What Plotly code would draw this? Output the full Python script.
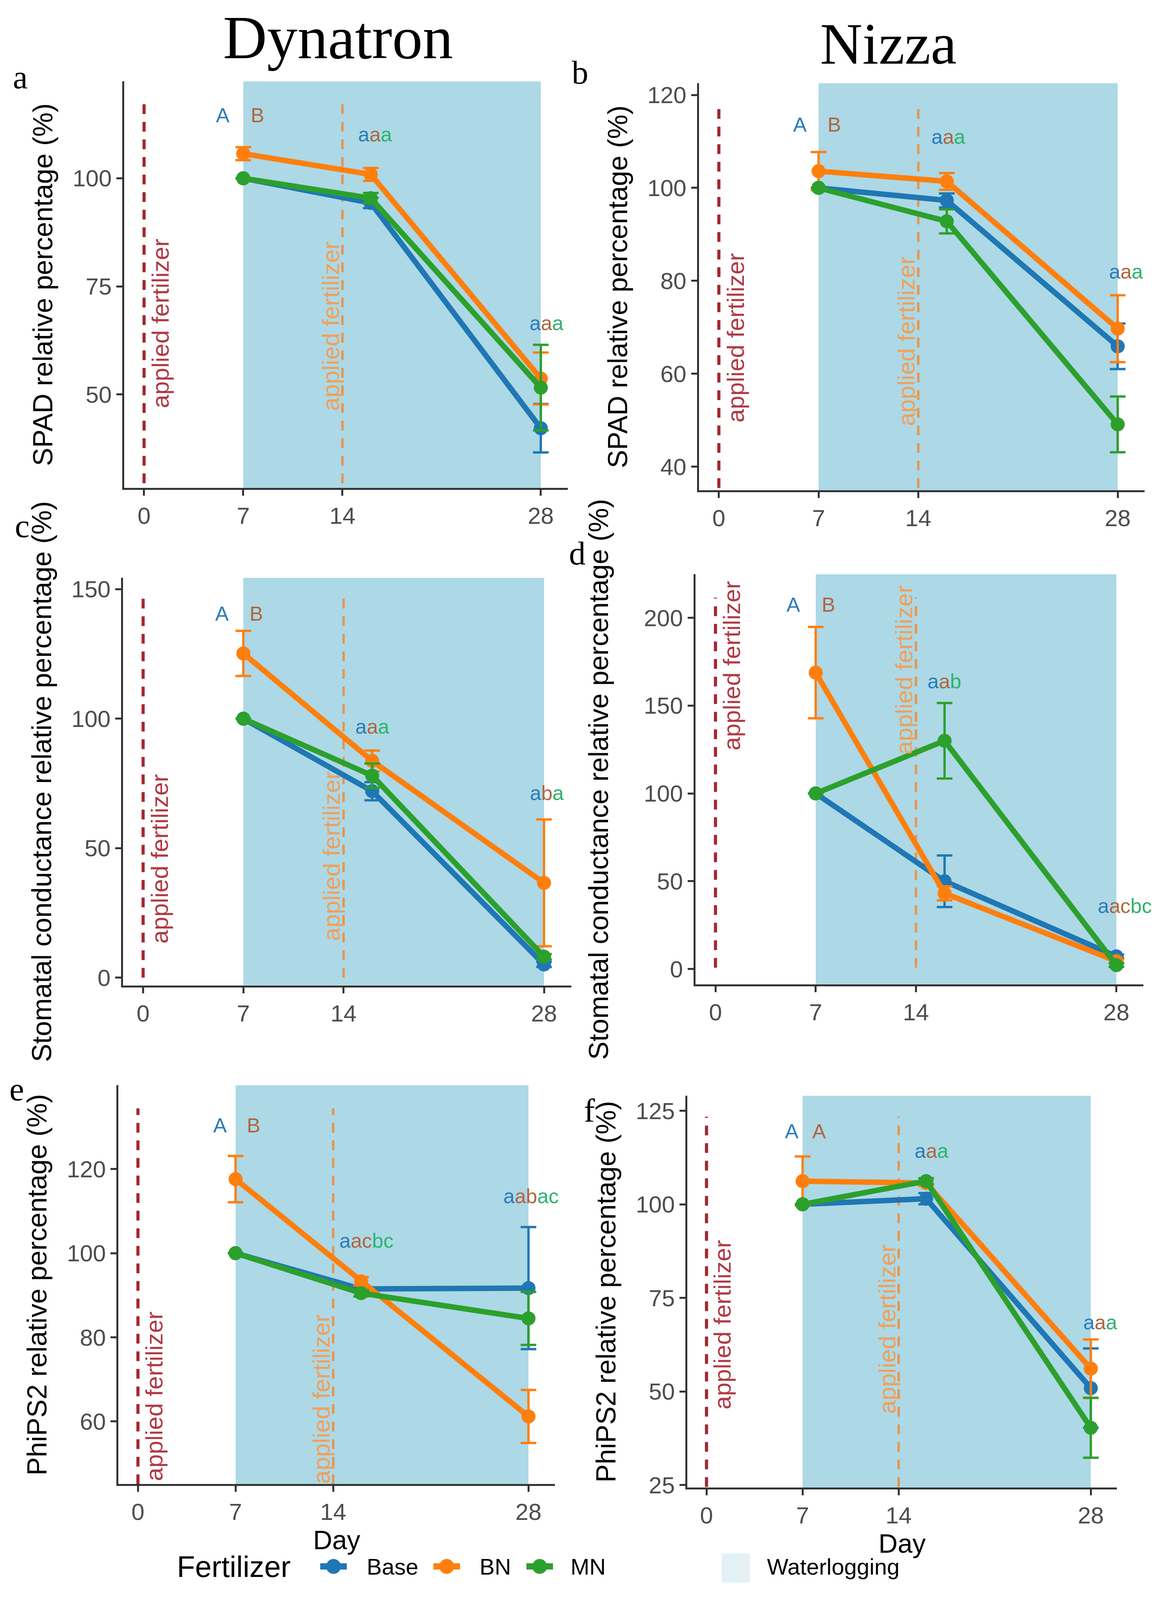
import plotly.graph_objects as go

W, H = 2973, 4211

days = [7, 16, 28]
treatments = ["Base", "BN", "MN"]
line_colors = {"Base": "#1f77b4", "BN": "#ff7f0e", "MN": "#2ca02c"}
letter_colors = {"Base": "#2b7bba", "BN": "#b0663f", "MN": "#2db36f"}

# SPAD, Dynatron
spad_dyn = {"Base": [100, 94.3, 42.2], "BN": [105.7, 100.9, 53.7], "MN": [100, 95.4, 51.6]}
spad_dyn_err = {"Base": [None, 1.2, 5.6], "BN": [1.5, 1.5, 6.0], "MN": [None, 1.2, 9.9]}
# SPAD, Nizza
spad_niz = {"Base": [100, 97.3, 65.9], "BN": [103.6, 101.4, 69.7], "MN": [100, 92.8, 49.1]}
spad_niz_err = {"Base": [None, 1.5, 4.9], "BN": [4.1, 1.8, 7.2], "MN": [None, 2.6, 6.0]}
# stomatal conductance, Dynatron
gs_dyn = {"Base": [100, 72.0, 5.1], "BN": [125.2, 83.7, 36.6], "MN": [100, 78.0, 8.1]}
gs_dyn_err = {"Base": [None, 3.5, 1.0], "BN": [8.7, 4.0, 24.5], "MN": [None, 4.7, 1.0]}
# stomatal conductance, Nizza
gs_niz = {"Base": [100, 50.0, 7.2], "BN": [168.8, 43.1, 4.5], "MN": [100, 130.0, 2.2]}
gs_niz_err = {"Base": [None, 14.7, 1.0], "BN": [26.0, 4.0, 1.0], "MN": [None, 21.5, 1.0]}
# PhiPS2, Dynatron
phi_dyn = {"Base": [100, 91.5, 91.7], "BN": [117.6, 93.3, 61.2], "MN": [100, 90.5, 84.5]}
phi_dyn_err = {"Base": [None, 0.8, 14.5], "BN": [5.5, 1.0, 6.3], "MN": [None, 0.8, 6.3]}
# PhiPS2, Nizza
phi_niz = {"Base": [100, 101.5, 50.9], "BN": [106.2, 105.7, 56.1], "MN": [100, 106.2, 40.3]}
phi_niz_err = {"Base": [None, 1.5, 10.6], "BN": [6.6, 0.8, 7.8], "MN": [None, 0.8, 8.0]}

# significance letters: (day position, y, [(text, treatment), ...])
letters_a = [(5.56, 114.6, [("A", "Base")]), (8.0, 114.6, [("B", "BN")]),
             (16.3, 110.2, [("a", "Base"), ("a", "BN"), ("a", "MN")]),
             (28.4, 66.5, [("a", "Base"), ("a", "BN"), ("a", "MN")])]
letters_b = [(5.7, 113.6, [("A", "Base")]), (8.1, 113.6, [("B", "BN")]),
             (16.1, 111.0, [("a", "Base"), ("a", "BN"), ("a", "MN")]),
             (28.6, 82.0, [("a", "Base"), ("a", "BN"), ("a", "MN")])]
letters_c = [(5.5, 140.6, [("A", "Base")]), (7.9, 140.6, [("B", "BN")]),
             (16.0, 96.9, [("a", "Base"), ("a", "BN"), ("a", "MN")]),
             (28.2, 71.3, [("a", "Base"), ("b", "BN"), ("a", "MN")])]
letters_d = [(5.45, 207.6, [("A", "Base")]), (7.9, 207.6, [("B", "BN")]),
             (16.0, 163.8, [("a", "Base"), ("a", "BN"), ("b", "MN")]),
             (28.6, 36.0, [("a", "Base"), ("ac", "BN"), ("bc", "MN")])]
letters_e = [(5.9, 130.4, [("A", "Base")]), (8.3, 130.4, [("B", "BN")]),
             (16.4, 103.0, [("a", "Base"), ("ac", "BN"), ("bc", "MN")]),
             (28.2, 113.6, [("a", "Base"), ("ab", "BN"), ("ac", "MN")])]
letters_f = [(6.2, 119.5, [("A", "Base")]), (8.2, 119.5, [("A", "BN")]),
             (16.4, 114.3, [("a", "Base"), ("a", "BN"), ("a", "MN")]),
             (28.7, 68.5, [("a", "Base"), ("a", "BN"), ("a", "MN")])]

fert_days = [0, 14]
water_start, water_end = 7, 28

spad_title = "SPAD relative percentage (%)"
gs_title = "Stomatal conductance relative percentage (%)"
phi_title = "PhiPS2 relative percentage (%)"

panels = [
    dict(tag="a", data=spad_dyn, err=spad_dyn_err, letters=letters_a, ytitle=spad_title,
         xdom=[0.107, 0.489], ydom=[0.6937, 0.9497], yrange=[28.4, 122.4], ticks=[50, 75, 100],
         seg=[29.5, 118.3], txt_y=[66.4, 65.8], standoff=30, day=False),
    dict(tag="b", data=spad_niz, err=spad_niz_err, letters=letters_b, ytitle=spad_title,
         xdom=[0.602, 0.986], ydom=[0.6922, 0.9485], yrange=[34.9, 122.5], ticks=[40, 60, 80, 100, 120],
         seg=[35.4, 117.6], txt_y=[67.7, 67.0], standoff=30, day=False),
    dict(tag="c", data=gs_dyn, err=gs_dyn_err, letters=letters_c, ytitle=gs_title,
         xdom=[0.106, 0.492], ydom=[0.3804, 0.6371], yrange=[-3, 154.4], ticks=[0, 50, 100, 150],
         seg=[0, 147.4], txt_y=[45.8, 46.8], standoff=30, day=False),
    dict(tag="d", data=gs_niz, err=gs_niz_err, letters=letters_d, ytitle=gs_title,
         xdom=[0.599, 0.985], ydom=[0.3811, 0.6393], yrange=[-8.7, 224.8], ticks=[0, 50, 100, 150, 200],
         seg=[0.8, 211.5], txt_y=[172.8, 170.4], standoff=70, day=False),
    dict(tag="e", data=phi_dyn, err=phi_dyn_err, letters=letters_e, ytitle=phi_title,
         xdom=[0.102, 0.478], ydom=[0.0663, 0.3175], yrange=[45.1, 139.9], ticks=[60, 80, 100, 120],
         seg=[45.1, 134.4], txt_y=[66.0, 65.3], standoff=30, day=True),
    dict(tag="f", data=phi_niz, err=phi_niz_err, letters=letters_f, ytitle=phi_title,
         xdom=[0.592, 0.962], ydom=[0.0641, 0.3109], yrange=[24.3, 129.0], ticks=[25, 50, 75, 100, 125],
         seg=[24.5, 123.4], txt_y=[67.8, 66.7], standoff=30, day=True),
]

SANS = "Liberation Sans, Arial, sans-serif"
SERIF = "Liberation Serif, Times New Roman, serif"
fert_line_colors = ["#a3282f", "#e8954a"]
fert_text_colors = ["#b03a45", "#f0a05a"]

fig = go.Figure()
shapes = []
annotations = []

for i, p in enumerate(panels):
    n = "" if i == 0 else str(i + 1)
    xa, ya = "x" + n, "y" + n
    for t in treatments:
        fig.add_trace(go.Scatter(
            x=days, y=p["data"][t], mode="lines+markers", name=t, showlegend=False,
            xaxis=xa, yaxis=ya,
            line=dict(color=line_colors[t], width=14),
            marker=dict(color=line_colors[t], size=36),
            error_y=dict(type="data", array=p["err"][t], color=line_colors[t], thickness=6, width=20),
        ))
    fig.layout["xaxis" + n] = dict(
        domain=p["xdom"], anchor=ya, range=[-1.4, 29.9], tickvals=[0, 7, 14, 28],
        showline=True, linecolor="#333333", linewidth=5, ticks="outside", ticklen=15,
        tickwidth=5, tickcolor="#333333", showgrid=False, zeroline=False,
        tickfont=dict(family=SANS, size=60, color="#4d4d4d"),
        title=dict(text="Day" if p["day"] else "", font=dict(family=SANS, size=68, color="black"),
                   standoff=12),
    )
    fig.layout["yaxis" + n] = dict(
        domain=p["ydom"], anchor=xa, range=p["yrange"], tickvals=p["ticks"],
        showline=True, linecolor="#333333", linewidth=5, ticks="outside", ticklen=15,
        tickwidth=5, tickcolor="#333333", showgrid=False, zeroline=False,
        tickfont=dict(family=SANS, size=60, color="#4d4d4d"),
        title=dict(text=p["ytitle"], font=dict(family=SANS, size=70, color="black"),
                   standoff=p["standoff"]),
    )
    # waterlogging period
    shapes.append(dict(type="rect", xref=xa, yref=ya + " domain", x0=water_start, x1=water_end,
                       y0=0, y1=1, fillcolor="#add8e6", line=dict(width=0), layer="below"))
    for k, d in enumerate(fert_days):
        shapes.append(dict(type="line", xref=xa, yref=ya, x0=d, x1=d, y0=p["seg"][0], y1=p["seg"][1],
                           line=dict(color=fert_line_colors[k], width=8 if k == 0 else 6, dash="25px,20px"),
                           layer="below"))
        annotations.append(dict(xref=xa, yref=ya, x=d + 1.15 if k == 0 else d - 0.85, y=p["txt_y"][k],
                                text="applied fertilizer", textangle=-90, showarrow=False,
                                xanchor="center", yanchor="middle",
                                font=dict(family=SANS, size=62, color=fert_text_colors[k])))
    for lx, ly, parts in p["letters"]:
        txt = "".join("<span style='color:%s'>%s</span>" % (letter_colors[tr], s) for s, tr in parts)
        annotations.append(dict(xref=xa, yref=ya, x=lx, y=ly, text=txt, showarrow=False,
                                xanchor="center", yanchor="middle", font=dict(family=SANS, size=52)))


def px(x):
    return x / W


def py(y):
    return 1 - y / H


def paper_text(x, y, text, size, family=SANS, anchor="center"):
    annotations.append(dict(xref="paper", yref="paper", x=px(x), y=py(y), text=text, showarrow=False,
                            xanchor=anchor, yanchor="middle", font=dict(family=family, size=size, color="black")))


# column titles and panel tags
paper_text(865, 96, "Dynatron", 156, SERIF)
paper_text(2275, 112, "Nizza", 150, SERIF)
tag_pos = {"a": (52, 200), "b": (1485, 188), "c": (57, 1390), "d": (1478, 1463), "e": (43, 2884), "f": (1509, 2940)}
for p in panels:
    tx, ty = tag_pos[p["tag"]]
    paper_text(tx, ty, p["tag"], 85, SERIF)

# legend drawn by hand
leg_y = 4150
paper_text(451, leg_y, "Fertilizer", 76, anchor="left")
glyph_x = [854, 1144, 1382]
label_x = [937, 1226, 1459]
for t, gx, lx in zip(treatments, glyph_x, label_x):
    shapes.append(dict(type="line", xref="paper", yref="paper", xsizemode="pixel", ysizemode="pixel",
                       xanchor=px(gx), yanchor=py(leg_y), x0=-34, x1=34, y0=0, y1=0,
                       line=dict(color=line_colors[t], width=16)))
    shapes.append(dict(type="circle", xref="paper", yref="paper", xsizemode="pixel", ysizemode="pixel",
                       xanchor=px(gx), yanchor=py(leg_y), x0=-19, x1=19, y0=-19, y1=19,
                       fillcolor=line_colors[t], line=dict(width=0)))
    paper_text(lx, leg_y, t, 58, anchor="left")
shapes.append(dict(type="rect", xref="paper", yref="paper", xsizemode="pixel", ysizemode="pixel",
                   xanchor=px(1884), yanchor=py(4154), x0=-36, x1=36, y0=-37, y1=37,
                   fillcolor="#e3f1f7", line=dict(width=0)))
paper_text(1962, leg_y, "Waterlogging", 58, anchor="left")

fig.update_layout(
    autosize=True, margin=dict(l=0, r=0, t=0, b=0),
    paper_bgcolor="white", plot_bgcolor="white",
    shapes=shapes, annotations=annotations, showlegend=False,
)

# fill whatever viewport the page gets
fig.write_html(
    "out.html", config={"displayModeBar": False, "responsive": True},
    default_width="100%", default_height="100vh",
    post_script="document.body.style.margin='0';document.body.style.overflow='hidden';"
                "Plotly.Plots.resize(document.getElementById('{plot_id}'));",
)
